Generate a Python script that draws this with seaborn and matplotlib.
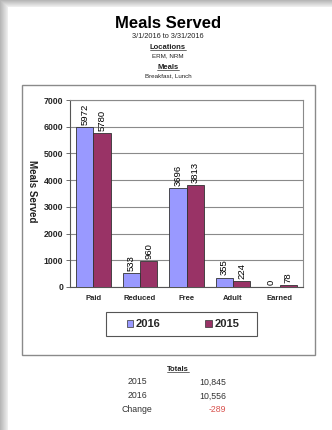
import numpy as np
import pandas as pd
import matplotlib
matplotlib.use("Agg")
import matplotlib.pyplot as plt
import seaborn as sns
from matplotlib.patches import Rectangle
from matplotlib.lines import Line2D

categories = ["Paid", "Reduced", "Free", "Adult", "Earned"]
series_2016 = [5972, 533, 3696, 355, 0]
series_2015 = [5780, 960, 3813, 224, 78]
years = ["2016", "2015"]
colors = {"2016": "#9999FF", "2015": "#993366"}
y_ticks = [0, 1000, 2000, 3000, 4000, 5000, 6000, 7000]
totals_labels = ["2015", "2016", "Change"]
totals_values = ["10,845", "10,556", "-289"]

sns.set_theme(style="white")
plt.rcParams["font.family"] = ["Liberation Sans", "DejaVu Sans"]

W, H = 332, 430
fig = plt.figure(figsize=(W / 100, H / 100), dpi=100)

# background axes in pixel coordinates
bg = fig.add_axes([0, 0, 1, 1])
bg.set_xlim(0, W)
bg.set_ylim(H, 0)
bg.axis("off")
img = np.ones((H, W, 3))
for i in range(8):
    v = 0.72 + 0.03 * i
    img[:, i, :] = np.minimum(img[:, i, :], v)
for j in range(7):
    v = 0.72 + 0.035 * j
    img[j, :, :] = np.minimum(img[j, :, :], v)
bg.imshow(img, extent=(0, W, H, 0), aspect="auto", zorder=0)
bg.add_patch(Rectangle((22, 85), 293, 270, fill=False, edgecolor="#8a8a8a", lw=1.0, zorder=1))
bg.add_patch(Rectangle((106, 312), 151, 24, facecolor="white", edgecolor="#555555", lw=0.8, zorder=2))

# header texts
cx = 168
def fx(x):
    return x / W
def fy(y):
    return 1 - y / H

fig.text(fx(cx), fy(23), "Meals Served", ha="center", va="center", fontsize=12, fontweight="bold", color="black")
fig.text(fx(cx), fy(36), "3/1/2016 to 3/31/2016", ha="center", va="center", fontsize=5.3, color="#222222")
t_loc = fig.text(fx(cx), fy(47.5), "Locations", ha="center", va="center", fontsize=5.5, fontweight="bold", color="#222222")
fig.text(fx(cx), fy(55.5), "ERM, NRM", ha="center", va="center", fontsize=4.5, color="#222222")
t_meal = fig.text(fx(cx), fy(67.5), "Meals", ha="center", va="center", fontsize=5.5, fontweight="bold", color="#222222")
fig.text(fx(cx), fy(76), "Breakfast, Lunch", ha="center", va="center", fontsize=4.5, color="#222222")

t_tot = fig.text(fx(178), fy(369.5), "Totals", ha="center", va="center", fontsize=5.5, fontweight="bold", color="#222222")
row_y = [382, 396, 409]
for lab, val, yy in zip(totals_labels, totals_values, row_y):
    fig.text(fx(137), fy(yy), lab, ha="center", va="center", fontsize=6.3, color="#333333")
    fig.text(fx(226), fy(yy), val, ha="right", va="center", fontsize=6.3,
             color="#d9534f" if val.startswith("-") else "#333333")

# chart
ax = fig.add_axes([70 / W, 1 - 287 / H, 233 / W, 187 / H])
df = pd.DataFrame({
    "Category": categories * 2,
    "Year": [years[0]] * len(categories) + [years[1]] * len(categories),
    "Value": series_2016 + series_2015,
})
sns.barplot(data=df, x="Category", y="Value", hue="Year", hue_order=years,
            palette=colors, width=0.74, edgecolor="#333333", linewidth=0.6,
            saturation=1, ax=ax, legend=False, zorder=3)
for cont in ax.containers:
    ax.bar_label(cont, labels=[f"{int(v)}" for v in cont.datavalues], rotation=90,
                 padding=1.5, fontsize=6.8, color="black")
ax.set_ylim(0, 7000)
ax.set_yticks(y_ticks)
ax.set_yticklabels([str(t) for t in y_ticks], fontsize=6.3, fontweight="bold")
ax.set_xticks(range(len(categories)))
ax.set_xticklabels(categories, fontsize=5.5, fontweight="bold")
ax.tick_params(axis="x", length=0, pad=6)
ax.tick_params(axis="y", length=3, width=0.6, color="#555555", pad=2, left=True)
ax.yaxis.grid(True, color="#8a8a8a", lw=0.8, zorder=0)
ax.set_axisbelow(True)
for s in ax.spines.values():
    s.set_color("#8a8a8a")
    s.set_linewidth(0.8)
ax.spines["left"].set_color("#555555")
ax.spines["bottom"].set_color("#555555")
ax.set_xlabel("")
ax.set_ylabel("")
ax.set_facecolor("white")
fig.text(fx(32), fy(191), "Meals Served", rotation=270, ha="center", va="center",
         fontsize=7, fontweight="bold", color="#222222")

# legend
handles = [Rectangle((0, 0), 1, 1, facecolor=colors[y], edgecolor="#333333", lw=0.5) for y in years]
leg = fig.legend(handles, years, loc="center", bbox_to_anchor=(fx(183), fy(324)),
                 ncol=2, frameon=False, prop={"weight": "bold", "size": 8},
                 handlelength=0.6, handleheight=0.6, handletextpad=0.25,
                 columnspacing=4.0, borderpad=0.3)
leg.set_zorder(5)

# underlines
fig.canvas.draw()
r = fig.canvas.get_renderer()
for t in (t_loc, t_meal, t_tot):
    bb = t.get_window_extent(r)
    y0 = bb.y0 + 1.0
    fig.add_artist(Line2D([bb.x0 / W, bb.x1 / W], [y0 / H, y0 / H],
                          transform=fig.transFigure, color="#333333", lw=0.5))

fig.savefig("out.png", dpi=100)
